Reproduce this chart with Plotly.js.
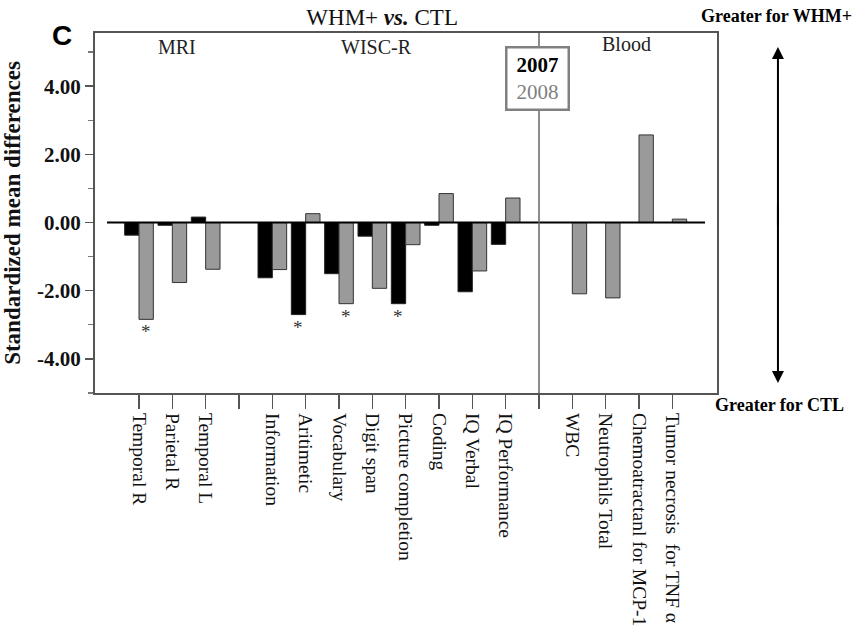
<!DOCTYPE html>
<html>
<head>
<meta charset="utf-8">
<script src="https://cdn.plot.ly/plotly-3.0.1.min.js"></script>
<style>html,body{margin:0;padding:0;background:#fff;}</style>
</head>
<body>
<div id="chart" style="width:853px;height:642px;"></div>
<script>
// ---- data ----
const categories = ["Temporal R", "Parietal R", "Temporal L", " ",
  "Information", "Aritimetic", "Vocabulary", "Digit span", "Picture completion",
  "Coding", "IQ Verbal", "IQ Performance", "  ",
  "WBC", "Neutrophils Total", "Chemoatractanl for MCP-1", "Tumor necrosis\u00a0\u00a0for TNF \u03b1"];
const values2007 = [-0.37, -0.08, 0.16, null, -1.62, -2.70, -1.50, -0.40, -2.38, -0.08, -2.03, -0.64, null, null, null, null, null];
const values2008 = [-2.84, -1.76, -1.37, null, -1.38, 0.26, -2.38, -1.93, -0.65, 0.85, -1.42, 0.72, null, -2.09, -2.21, 2.57, 0.10];
const yTickVals = [-4, -2, 0, 2, 4];
const yTickText = ["-4.00", "-2.00", "0.00", "2.00", "4.00"];
const starCats = ["Temporal R", "Aritimetic", "Vocabulary", "Picture completion"];
const starSeries = ["2008", "2007", "2008", "2007"];
const groupLabels = ["MRI", "WISC-R", "Blood"];

const serif = "Liberation Serif, Times New Roman, serif";

const traces = [
  {type: "bar", name: "2007", x: categories, y: values2007,
   marker: {color: "#000000", line: {color: "#222", width: 1}}, showlegend: false},
  {type: "bar", name: "2008", x: categories, y: values2008,
   marker: {color: "#9a9a9a", line: {color: "#333", width: 1}}, showlegend: false}
];

const annotations = [];
// significance stars
starCats.forEach((c, i) => {
  const idx = categories.indexOf(c);
  const v = starSeries[i] === "2007" ? values2007[idx] : values2008[idx];
  annotations.push({x: c, y: v, xref: "x", yref: "y", text: "*", showarrow: false,
    xshift: starSeries[i] === "2007" ? -7.3 : 7.3, yanchor: "top", yshift: 0,
    font: {family: serif, size: 19, color: "#333333"}});
});
// group labels
const groupPos = [[0.132, 0.961], [0.452, 0.961], [0.854, 0.969]];
groupLabels.forEach((g, i) => {
  annotations.push({x: groupPos[i][0], y: groupPos[i][1], xref: "paper", yref: "paper",
    text: g, showarrow: false, xanchor: "center", yanchor: "middle",
    font: {family: serif, size: 20, color: "#222"}});
});
// legend box
annotations.push({x: 0.712, y: 0.875, xref: "paper", yref: "paper", showarrow: false,
  text: "<b>2007</b><br><span style='color:#808080'>2008</span>",
  font: {family: serif, size: 21, color: "#000"}, align: "center",
  bgcolor: "#ffffff", bordercolor: "#808080", borderwidth: 2.5, borderpad: 3,
  width: 54, height: 54, xanchor: "center", yanchor: "middle"});
// panel letter
annotations.push({x: -0.053, y: 0.994, xref: "paper", yref: "paper", showarrow: false,
  text: "<b>C</b>", font: {family: "Liberation Sans, Arial, sans-serif", size: 28, color: "#000"},
  xanchor: "center", yanchor: "middle"});
// right side direction labels and arrow
annotations.push({x: 1.095, y: 1.047, xref: "paper", yref: "paper", showarrow: false,
  text: "<b>Greater for WHM+</b>", font: {family: serif, size: 18, color: "#000"},
  xanchor: "center", yanchor: "middle"});
annotations.push({x: 1.0997, y: -0.033, xref: "paper", yref: "paper", showarrow: false,
  text: "<b>Greater for CTL</b>", font: {family: serif, size: 18, color: "#000"},
  xanchor: "center", yanchor: "middle"});
annotations.push({x: 1.098, y: 0.961, xref: "paper", yref: "paper", text: "",
  showarrow: true, ax: 0, ay: 180, arrowhead: 2, arrowsize: 1.2, arrowwidth: 2, arrowcolor: "#000"});
annotations.push({x: 1.098, y: 0.028, xref: "paper", yref: "paper", text: "",
  showarrow: true, ax: 0, ay: -180, arrowhead: 2, arrowsize: 1.2, arrowwidth: 2, arrowcolor: "#000"});

const layout = {
  width: 853, height: 642, autosize: false,
  margin: {l: 95, r: 136, t: 33, b: 249},
  paper_bgcolor: "#ffffff", plot_bgcolor: "#ffffff",
  barmode: "group", bargap: 0.14, bargroupgap: 0,
  title: {text: "WHM+ <b><i>vs.</i></b> CTL", x: 0.448, xanchor: "center", y: 0.9735, yanchor: "middle",
    font: {family: serif, size: 23, color: "#111"}},
  xaxis: {type: "category", range: [-1.32, 17.34], showgrid: false, zeroline: false,
    showline: true, linecolor: "#555", linewidth: 2, mirror: true,
    ticks: "outside", ticklen: 14, tickwidth: 1.5, tickcolor: "#555", tickangle: 90,
    tickfont: {family: serif, size: 19.5, color: "#111"}, fixedrange: true},
  yaxis: {range: [-5, 5.56], showgrid: false, zeroline: false,
    showline: true, linecolor: "#555", linewidth: 2, mirror: true,
    tickvals: yTickVals, ticktext: yTickText,
    ticks: "outside", ticklen: 8, tickwidth: 1.5, tickcolor: "#555",
    minor: {dtick: 1, ticks: "outside", ticklen: 5, tickcolor: "#777", tickwidth: 1.2},
    tickfont: {family: serif, size: 21, color: "#111", weight: "bold"},
    title: {text: "<b>Standardized mean differences</b>", standoff: 12,
      font: {family: serif, size: 23, color: "#111"}}, fixedrange: true},
  shapes: [
    {type: "line", xref: "x", yref: "y", x0: -0.96, x1: 16.98, y0: 0, y1: 0,
     line: {color: "#000", width: 2}},
    {type: "line", xref: "x", yref: "paper", x0: 12, x1: 12, y0: 0, y1: 1,
     line: {color: "#666", width: 1.5}}
  ],
  annotations: annotations
};

Plotly.newPlot("chart", traces, layout, {staticPlot: true, displayModeBar: false});
</script>
</body>
</html>
